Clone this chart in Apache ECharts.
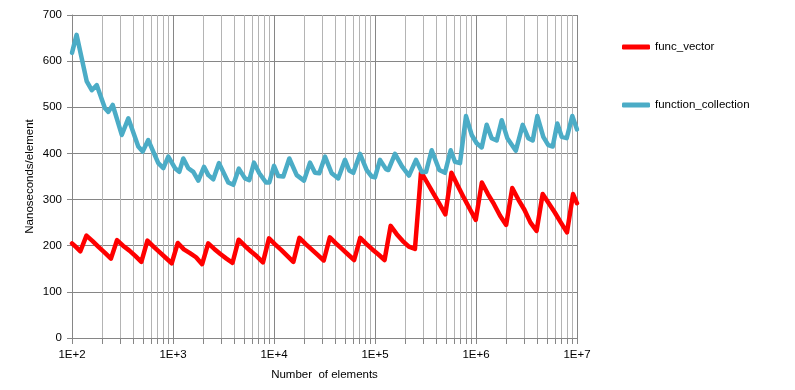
<!DOCTYPE html>
<html>
<head>
<meta charset="utf-8">
<script src="https://cdn.jsdelivr.net/npm/echarts@6/dist/echarts.min.js"></script>
<style>
html,body{margin:0;padding:0;background:#fff;}
#chart{width:795px;height:390px;}
</style>
</head>
<body>
<div id="chart"></div>
<script>
// ---- data ----
const seriesNames = ['func_vector', 'function_collection'];

const vectorX = [100,
  106, 121, 139, 160, 184,
  211, 243, 279, 320, 368,
  423, 486, 558, 641, 736,
  846, 971, 1116, 1282, 1472,
  1691, 1943, 2232, 2563, 2945,
  3382, 3885, 4463, 5127, 5889,
  6765, 7771, 8926, 10253, 11778,
  13530, 15542, 17853, 20507, 23556,
  27060, 31083, 35705, 41014, 47112,
  54120, 62167, 71410, 82028, 94225,
  108240, 124334, 142820, 164056, 188449,
  216480, 248668, 285641, 328112, 376899,
  432960, 497336, 571282, 656224, 753797,
  865920, 994672, 1142563, 1312448, 1507594,
  1731840, 1989344, 2285126, 2624896, 3015188,
  3463680, 3978688, 4570253, 5249792, 6030376,
  6927360, 7957376, 9140506,
  10000000];
const vectorY = [205,
  200, 188, 222, 210, 197,
  185, 172, 212, 200, 190,
  178, 165, 211, 198, 186,
  174, 162, 206, 192, 184,
  175, 160, 205, 193, 182,
  172, 163, 213, 200, 188,
  177, 164, 216, 203, 191,
  178, 165, 217, 204, 192,
  180, 168, 218, 205, 193,
  181, 169, 217, 204, 192,
  181, 169, 243, 225, 210,
  198, 193, 360, 337, 314,
  291, 268, 358, 331, 305,
  280, 256, 337, 312, 290,
  265, 245, 325, 300, 278,
  250, 232, 312, 292, 272,
  250, 229, 312,
  292];

const collectionX = [100, 111, 140, 157, 176, 212, 229, 253, 311, 361, 453, 501, 569,
  715, 802, 898, 1047, 1154, 1265, 1418, 1589, 1781, 2028, 2237, 2506, 2854,
  3528, 3954, 4482, 5163, 5692, 6339, 7153, 8334, 8985, 10000, 11030, 12364,
  14178, 16781, 19815, 22724, 25464, 28087, 31989, 37267, 43310, 50466, 55658,
  60974, 71041, 82780, 92756, 100000, 112079, 128521, 135435, 157761, 185078,
  217070, 254680, 290000, 319890, 364160, 433100, 493200, 561600, 619500,
  694500, 796100, 906700, 1016000, 1139000, 1276000, 1430000, 1603000, 1797000,
  2042000, 2480000, 2900000, 3294000, 3642000, 4046000, 4638000, 5197000,
  5746000, 6383000, 7056000, 7907000, 8985000, 10000000];
const collectionY = [618, 657, 556, 537, 548, 498, 490, 505, 440, 476, 415, 404, 429,
  379, 368, 393, 368, 360, 389, 368, 360, 341, 371, 353, 344, 379,
  337, 332, 367, 346, 342, 380, 357, 337, 337, 373, 351, 350,
  389, 353, 341, 380, 358, 357, 393, 357, 346, 386, 363,
  358, 399, 364, 350, 348, 386, 366, 364, 399, 372,
  352, 386, 360, 360, 407, 364, 358, 407, 382,
  379, 481, 440, 422, 413, 462, 433, 428, 472,
  433, 406, 462, 433, 428, 481, 436, 418,
  415, 465, 436, 433, 481, 452];

const decades = [100, 1000, 10000, 100000, 1000000];
const minorMultipliers = [2, 3, 4, 5, 6, 7, 8, 9];
const yTicks = [0, 100, 200, 300, 400, 500, 600, 700];

// ---- build ----
const zip = (xs, ys) => xs.map((x, i) => [x, ys[i]]);
const minorTicks = [];
decades.forEach(d => minorMultipliers.forEach(m => minorTicks.push([d * m, 0])));

const FONT = 'Liberation Sans';
const chart = echarts.init(document.getElementById('chart'), null, {renderer: 'canvas'});
chart.setOption({
  animation: false,
  backgroundColor: '#ffffff',
  grid: {left: 72, right: 218, top: 15, bottom: 52, containLabel: false},
  legend: {
    data: seriesNames,
    orient: 'vertical',
    left: 617,
    top: 36,
    itemGap: 46,
    itemWidth: 28,
    itemHeight: 5,
    icon: 'roundRect',
    textStyle: {fontFamily: FONT, fontSize: 11.5, color: '#000'}
  },
  xAxis: {
    type: 'log',
    logBase: 10,
    min: 100,
    max: 10000000,
    name: 'Number  of elements',
    nameLocation: 'middle',
    nameGap: 31,
    nameMoveOverlap: false,
    nameTextStyle: {fontFamily: FONT, fontSize: 11.5, color: '#000'},
    axisLine: {show: true, lineStyle: {color: '#868686', width: 1}},
    axisTick: {show: true, length: 6, lineStyle: {color: '#868686'}},
    axisLabel: {
      fontFamily: FONT, fontSize: 11.5, color: '#000', margin: 11,
      formatter: v => '1E+' + Math.round(Math.log10(v))
    },
    splitLine: {show: true, lineStyle: {color: '#868686', width: 1}},
    minorTick: {show: false},
    minorSplitLine: {show: false}
  },
  yAxis: {
    type: 'value',
    min: yTicks[0],
    max: yTicks[yTicks.length - 1],
    interval: 100,
    name: 'Nanoseconds/element',
    nameLocation: 'middle',
    nameGap: 36,
    nameMoveOverlap: false,
    nameTextStyle: {fontFamily: FONT, fontSize: 11.5, color: '#000'},
    axisLine: {show: true, lineStyle: {color: '#868686', width: 1}},
    axisTick: {show: true, length: 5, lineStyle: {color: '#868686'}},
    axisLabel: {fontFamily: FONT, fontSize: 11.5, color: '#000', margin: 10},
    splitLine: {show: true, lineStyle: {color: '#868686', width: 1}}
  },
  series: [
    {
      type: 'custom',
      name: 'minor',
      silent: true,
      clip: false,
      z: 1,
      encode: {x: 0, y: 1},
      data: minorTicks,
      renderItem: (params, api) => {
        const x = api.value(0);
        const p0 = api.coord([x, yTicks[0]]);
        const p1 = api.coord([x, yTicks[yTicks.length - 1]]);
        const px = Math.round(p0[0]) + 0.5;
        return {
          type: 'group',
          children: [
            {type: 'line', shape: {x1: px, y1: p0[1], x2: px, y2: p1[1]},
             style: {stroke: '#b4b4b4', lineWidth: 1}},
            {type: 'line', shape: {x1: px, y1: p0[1], x2: px, y2: p0[1] + 6},
             style: {stroke: '#868686', lineWidth: 1}}
          ]
        };
      }
    },
    {
      name: seriesNames[0],
      type: 'line',
      z: 3,
      data: zip(vectorX, vectorY),
      showSymbol: false,
      symbol: 'none',
      color: '#ff0000',
      lineStyle: {color: '#ff0000', width: 4.5, join: 'round', cap: 'round'}
    },
    {
      name: seriesNames[1],
      type: 'line',
      z: 4,
      data: zip(collectionX, collectionY),
      showSymbol: false,
      symbol: 'none',
      color: '#4bacc6',
      lineStyle: {color: '#4bacc6', width: 4.5, join: 'round', cap: 'round'}
    }
  ]
});
</script>
</body>
</html>
